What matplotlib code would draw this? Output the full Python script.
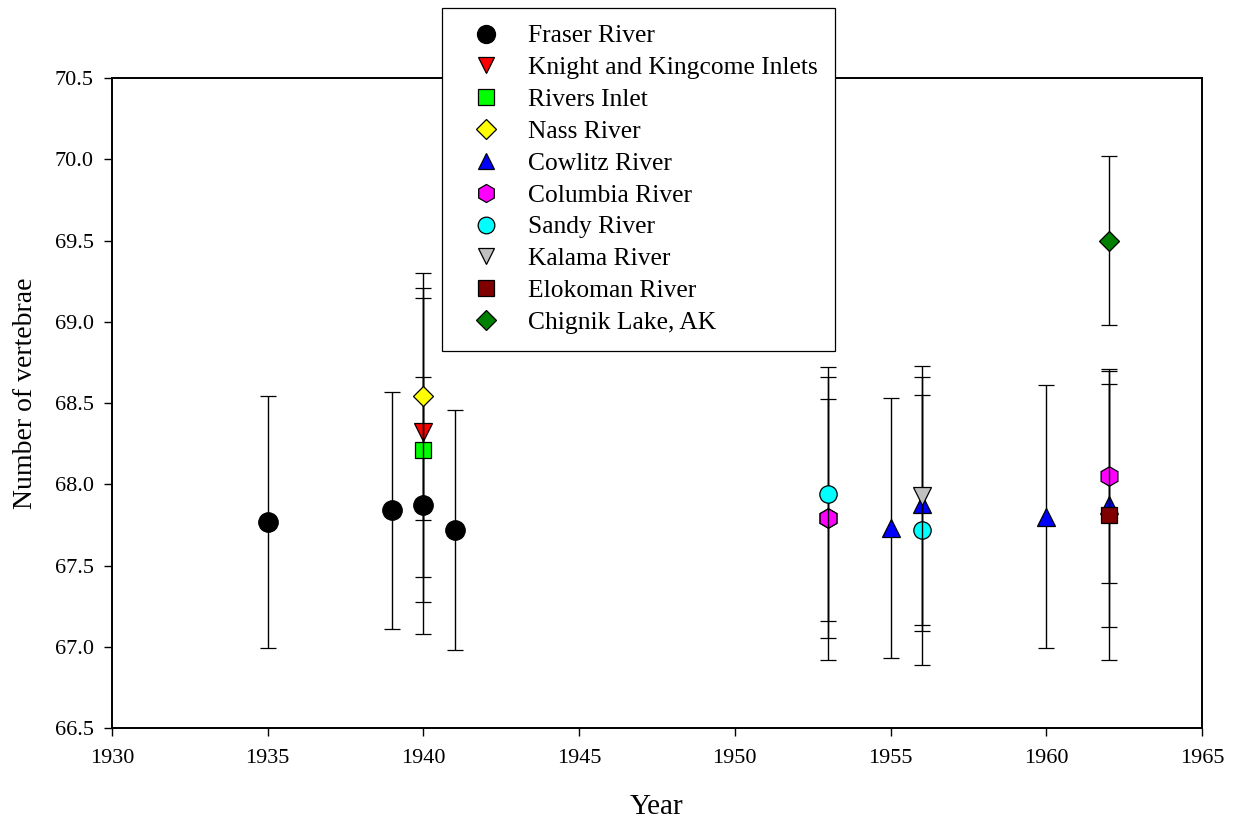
import matplotlib
matplotlib.use("Agg")
import matplotlib.pyplot as plt
from matplotlib.lines import Line2D

plt.rcParams['font.family'] = ['Liberation Serif', 'DejaVu Serif']

# mean number of vertebrae (+/- SD) by sampling year
fraser_years = [1935, 1939, 1940, 1941]
fraser_mean = [67.77, 67.84, 67.87, 67.72]
fraser_sd = [0.775, 0.73, 0.79, 0.74]

knight_years = [1940]
knight_mean = [68.32]
knight_sd = [0.89]

rivers_years = [1940]
rivers_mean = [68.21]
rivers_sd = [0.935]

nass_years = [1940]
nass_mean = [68.54]
nass_sd = [0.76]

cowlitz_years = [1955, 1956, 1960, 1962]
cowlitz_mean = [67.73, 67.88, 67.80, 67.87]
cowlitz_sd = [0.80, 0.78, 0.81, 0.75]

columbia_years = [1953, 1953, 1962]
columbia_mean = [67.79, 67.79, 68.05]
columbia_sd = [0.87, 0.735, 0.66]

sandy_years = [1953, 1956]
sandy_mean = [67.94, 67.72]
sandy_sd = [0.78, 0.83]

kalama_years = [1956]
kalama_mean = [67.93]
kalama_sd = [0.795]

elokoman_years = [1962]
elokoman_mean = [67.81]
elokoman_sd = [0.89]

chignik_years = [1962]
chignik_mean = [69.50]
chignik_sd = [0.52]

# name, x, mean, sd, marker, face colour, marker size (plot), marker size (legend)
series = [
    ("Fraser River", fraser_years, fraser_mean, fraser_sd, 'o', 'black', 14, 13),
    ("Knight and Kingcome Inlets", knight_years, knight_mean, knight_sd, 'v', '#FF0000', 13.5, 12),
    ("Rivers Inlet", rivers_years, rivers_mean, rivers_sd, 's', '#00FF00', 11.5, 11),
    ("Nass River", nass_years, nass_mean, nass_sd, 'D', '#FFFF00', 10.5, 10),
    ("Cowlitz River", cowlitz_years, cowlitz_mean, cowlitz_sd, '^', '#0000FF', 13.5, 12),
    ("Columbia River", columbia_years, columbia_mean, columbia_sd, 'h', '#FF00FF', 14, 13),
    ("Sandy River", sandy_years, sandy_mean, sandy_sd, 'o', '#00FFFF', 12.5, 12),
    ("Kalama River", kalama_years, kalama_mean, kalama_sd, 'v', '#C0C0C0', 13.5, 12),
    ("Elokoman River", elokoman_years, elokoman_mean, elokoman_sd, 's', '#800000', 11.5, 11),
    ("Chignik Lake, AK", chignik_years, chignik_mean, chignik_sd, 'D', '#008000', 10.5, 10),
]

fig = plt.figure(figsize=(12.34, 8.21), dpi=100)
ax = fig.add_axes([112/1234, 1-728/821, 1090/1234, 650/821])

handles = []
for i, (name, yrs, mean, sd, mk, col, ms, lms) in enumerate(series):
    ax.errorbar(yrs, mean, yerr=sd, fmt=mk, ms=ms, mfc=col, mec='black', mew=0.9,
                ecolor='black', elinewidth=1.0, capsize=5.5, capthick=1.0,
                zorder=3 + i)
    handles.append(Line2D([], [], linestyle='none', marker=mk, markersize=lms,
                          markerfacecolor=col, markeredgecolor='black', markeredgewidth=0.9))

ax.set_xlim(1930, 1965)
ax.set_ylim(66.5, 70.5)
ax.set_xticks(range(1930, 1966, 5))
ax.set_yticks([66.5 + 0.5 * k for k in range(9)])
ax.yaxis.set_major_formatter(matplotlib.ticker.FormatStrFormatter('%.1f'))
ax.tick_params(direction='out', length=6, width=1.0, labelsize=16, top=False, right=False)
ax.tick_params(axis='x', pad=9)
ax.tick_params(axis='y', pad=7)
for sp in ax.spines.values():
    sp.set_linewidth(1.4)

ax.set_xlabel("Year", fontsize=21, labelpad=19)
ax.set_ylabel("Number of vertebrae", fontsize=20)
ax.yaxis.set_label_coords(-0.0675, 0.515)

leg = fig.legend(handles, [s[0] for s in series], loc='upper left',
                 bbox_to_anchor=(442/1234, 1-8/821), borderaxespad=0,
                 fontsize=18.4, frameon=True, fancybox=False, edgecolor='black',
                 framealpha=1, borderpad=0.65, handlelength=2.13, handletextpad=0.6,
                 labelspacing=0.35)
leg.get_frame().set_linewidth(0.9)

plt.savefig('out.png', dpi=100)
